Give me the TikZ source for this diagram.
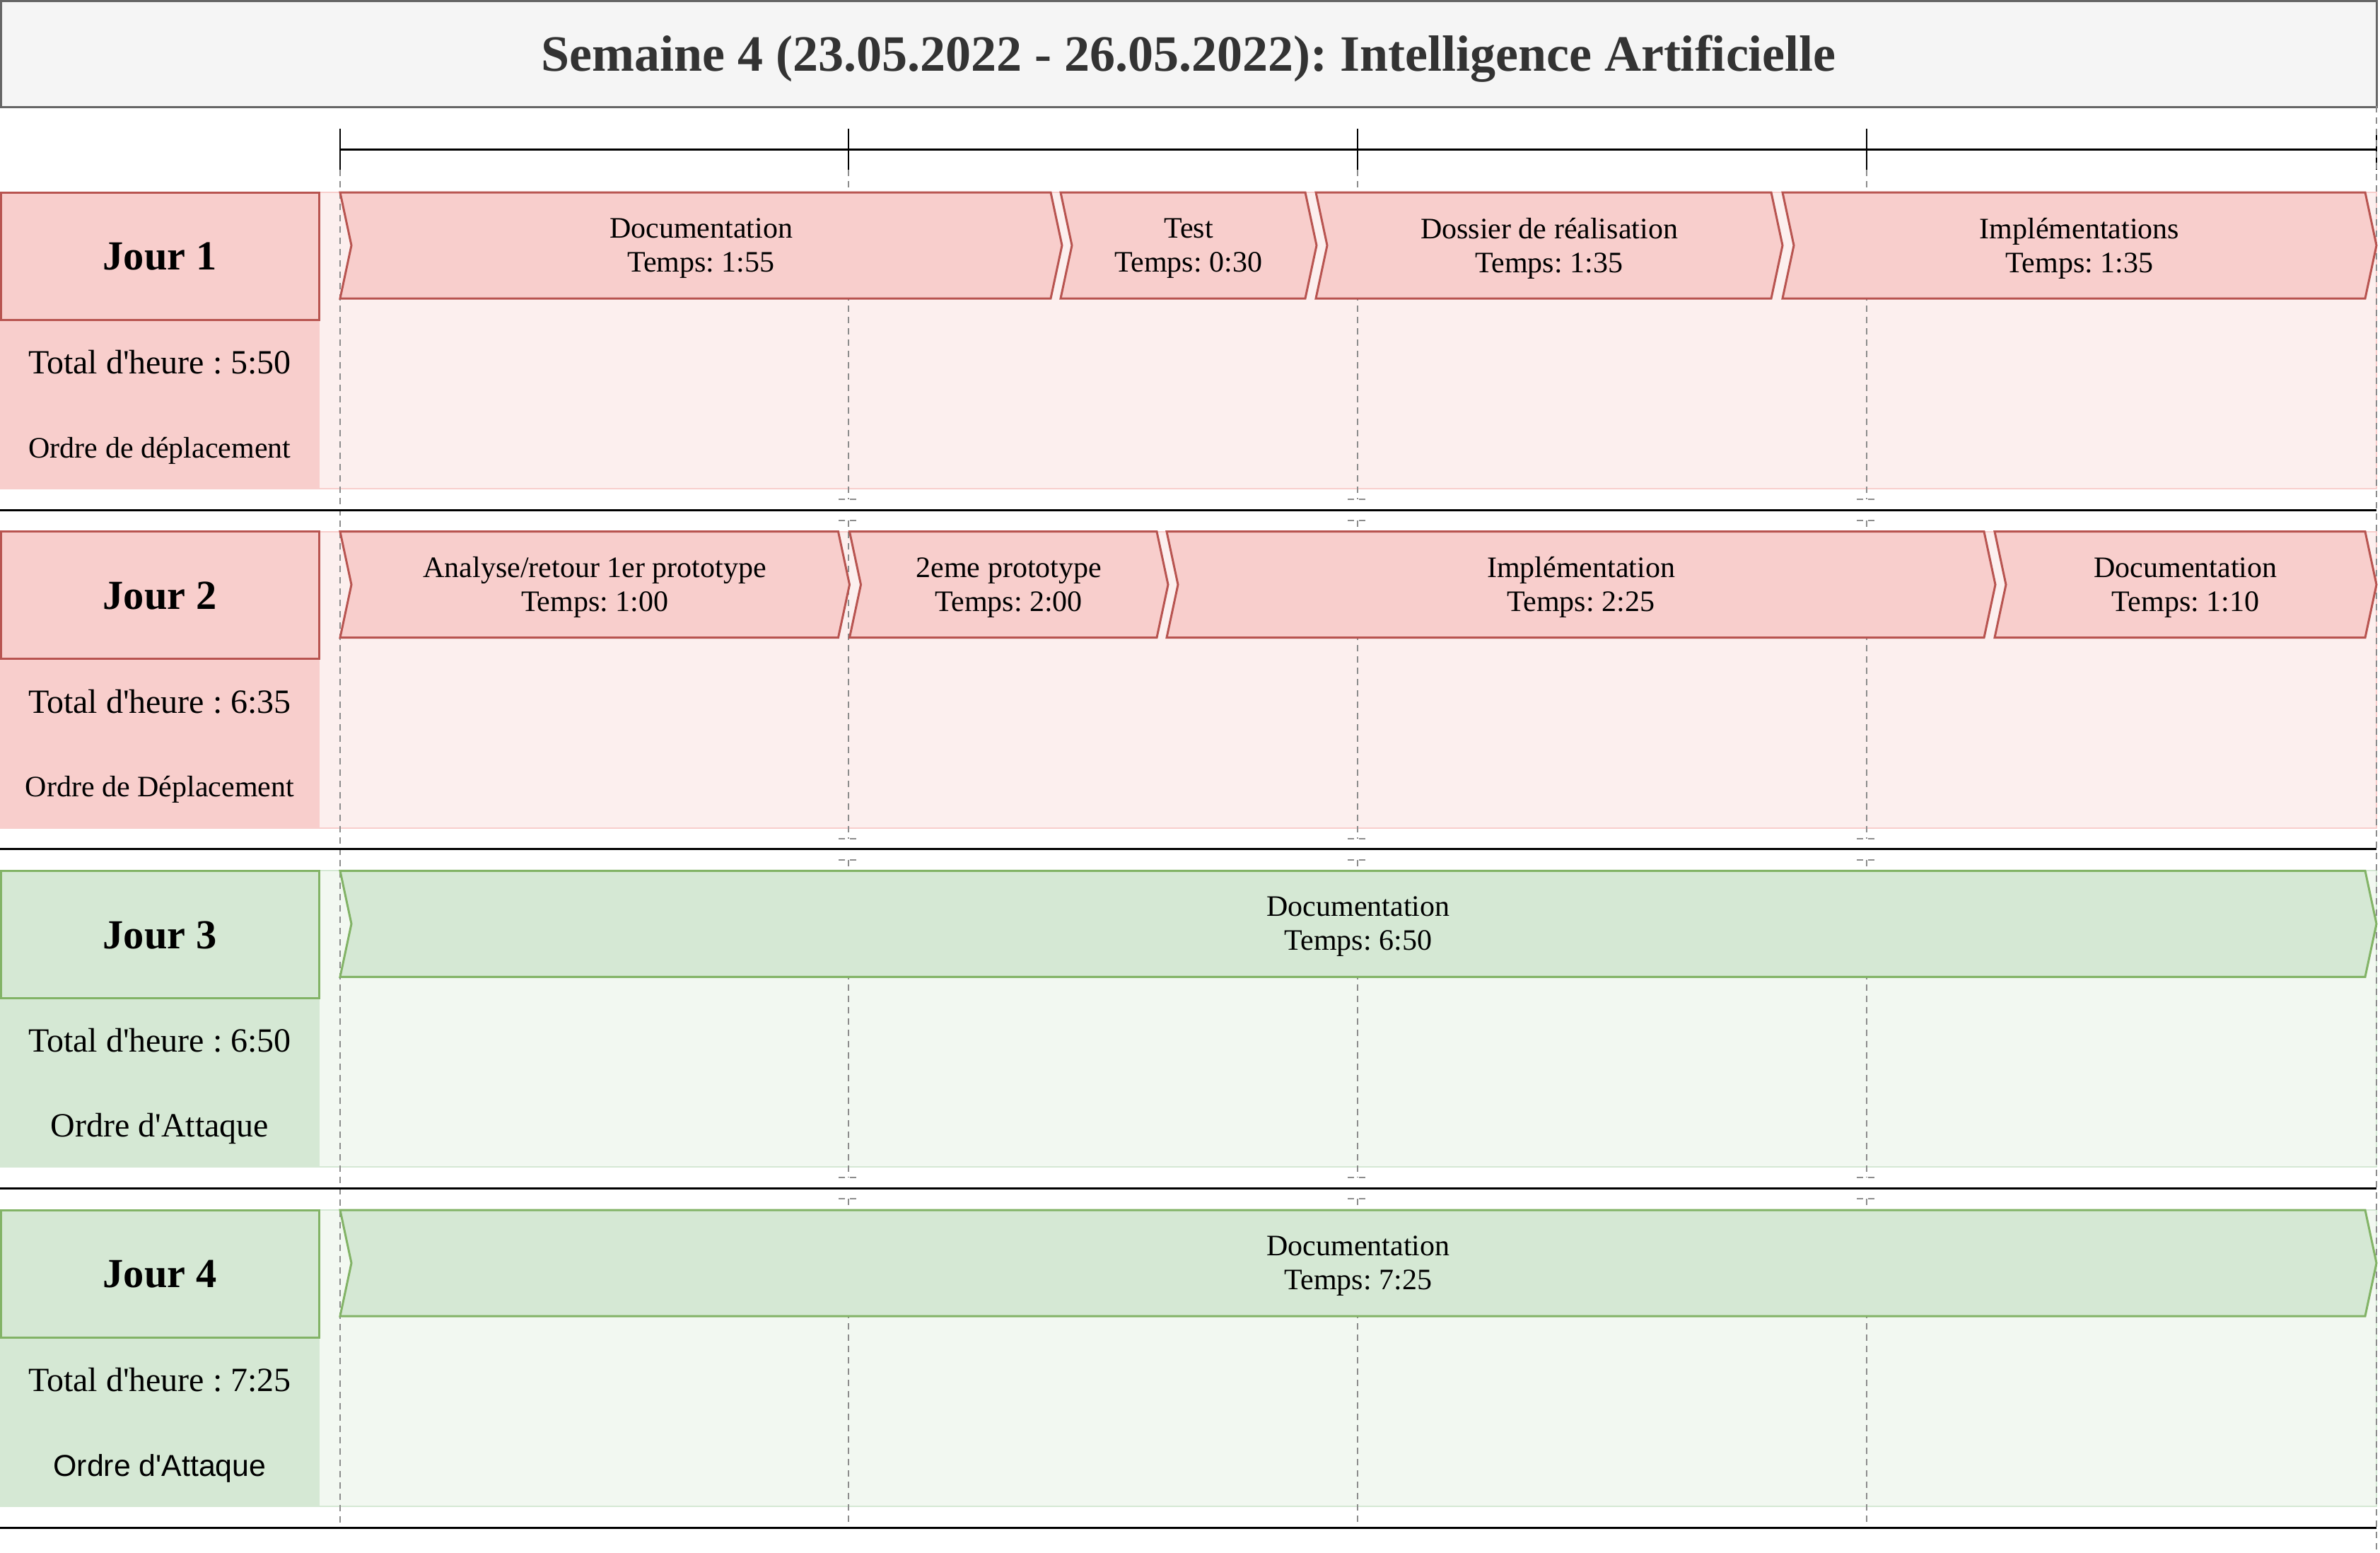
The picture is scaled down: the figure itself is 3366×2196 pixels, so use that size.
\documentclass[tikz,border=0pt]{standalone}
\usepackage{fontspec}
\setmainfont{Liberation Serif}[Ligatures=TeXOff]
\newfontfamily\arialfont{Liberation Sans}
\usetikzlibrary{calc}

\definecolor{hdrfill}{HTML}{F5F5F5}
\definecolor{hdrline}{HTML}{666666}
\definecolor{hdrtext}{HTML}{333333}
\definecolor{redfill}{HTML}{F8CECC}
\definecolor{redline}{HTML}{B85450}
\definecolor{redlight}{HTML}{FCEFEE}
\definecolor{greenfill}{HTML}{D5E8D4}
\definecolor{greenline}{HTML}{82B366}
\definecolor{greenlight}{HTML}{F2F8F1}
\definecolor{gridgray}{HTML}{8C8C8C}

% chevron task: name, x start, x end (tip), top, colour family, text
\newcommand{\taskarrow}[6]{%
  \path[draw=#5line, fill=#5fill, line width=0.75pt, line join=miter]
    (#2,#4) -- ({#3-16},#4) -- (#3,{#4+75}) -- ({#3-16},{#4+150})
    -- (#2,{#4+150}) -- ({#2+16},{#4+75}) -- cycle;
  \node[tasktext] (#1) at ({(#2+#3)/2},{#4+79}) {#6};
}

% day header block: name, top, colour family, day title, total text, order text
\newcommand{\dayblock}[6]{%
  \path[fill=#3light, draw=#3fill, line width=0.5pt] (451,#2) rectangle (3361,{#2+419});
  \path[fill=#3fill] (0,{#2+180}) rectangle (451,{#2+420});
  \path[fill=#3fill, draw=#3line, line width=0.75pt] (1.5,#2) rectangle (451,{#2+180});
  \node[daytitle] (#1title) at (226,{#2+91}) {#4};
  \node[totaltext] (#1total) at (226,{#2+240}) {#5};
  \node[inner sep=0] (#1order) at (226,{#2+365}) {#6};
}

\begin{document}
\frenchspacing
\begin{tikzpicture}[x=0.25pt,y=-0.25pt,
  tasktext/.style={align=center, inner sep=0, font=\fontsize{10.5}{12}\selectfont},
  daytitle/.style={inner sep=0, font=\fontsize{14.6}{17}\selectfont\bfseries},
  totaltext/.style={inner sep=0, font=\fontsize{12}{14}\selectfont},
  gridline/.style={draw=gridgray, line width=0.5pt, dash pattern=on 2.25pt off 1.75pt},
  separator/.style={draw=black, line width=0.75pt},
  tick/.style={draw=black, line width=0.5pt}]

\useasboundingbox (0,0) rectangle (3366,2196);

% title bar
\path[draw=hdrline, fill=hdrfill, line width=0.75pt] (1.5,1.5) rectangle (3361,151);
\node[inner sep=0, text=hdrtext, font=\fontsize{18}{21}\selectfont\bfseries] (title) at (1681,83)
  {Semaine 4 (23.05.2022 - 26.05.2022): Intelligence Artificielle};

% day blocks
\dayblock{d1}{272}{red}{Jour 1}{Total d'heure : 5:50}{\fontsize{10.5}{12}\selectfont Ordre de déplacement}
\dayblock{d2}{751.7}{red}{Jour 2}{Total d'heure : 6:35}{\fontsize{10.5}{12}\selectfont Ordre de Déplacement}
\dayblock{d3}{1231.3}{green}{Jour 3}{Total d'heure : 6:50}{\fontsize{12}{14}\selectfont Ordre d'Attaque}
\dayblock{d4}{1711}{green}{Jour 4}{Total d'heure : 7:25}{\arialfont\fontsize{10.7}{12}\selectfont Ordre d'Attaque}

% time scale
\coordinate (t0) at (481,211);
\coordinate (t4) at (3361,211);
\draw[black, line width=0.75pt] (t0) -- (t4);
\foreach \x in {481,1200,1920,2640,3361}{
  \draw[tick] (\x,182) -- (\x,240);
}

% dashed guides
\draw[gridline] (481,240) -- (481,2160);
\draw[gridline] (3361,150) -- (3361,2196);
\foreach \x in {1200,1920,2640}{
  \draw[gridline] (\x,240) -- (\x,706);
  \foreach \s in {721,1200.7,1680.3}{
    \draw[gridline] ({\x-14},{\s-15}) -- ({\x+14},{\s-15});
    \draw[gridline] ({\x-14},{\s+15}) -- ({\x+14},{\s+15});
  }
  \draw[gridline] (\x,736) -- (\x,1185.7);
  \draw[gridline] (\x,1215.7) -- (\x,1665.3);
  \draw[gridline] (\x,1695.3) -- (\x,2160);
}

% day 1 tasks
\taskarrow{a11}{481}{1502}{272}{red}{Documentation\\Temps: 1:55}
\taskarrow{a12}{1500}{1862}{272}{red}{Test\\Temps: 0:30}
\taskarrow{a13}{1861}{2521}{272}{red}{Dossier de réalisation\\Temps: 1:35}
\taskarrow{a14}{2521}{3361}{272}{red}{Implémentations\\Temps: 1:35}

% day 2 tasks
\taskarrow{a21}{481}{1201.5}{751.7}{red}{Analyse/retour 1er prototype\\Temps: 1:00}
\taskarrow{a22}{1201.5}{1652}{751.7}{red}{2eme prototype\\Temps: 2:00}
\taskarrow{a23}{1650}{2822}{751.7}{red}{Implémentation\\Temps: 2:25}
\taskarrow{a24}{2821}{3361}{751.7}{red}{Documentation\\Temps: 1:10}

% day 3 and 4 tasks
\taskarrow{a31}{481}{3361}{1231.3}{green}{Documentation\\Temps: 6:50}
\taskarrow{a41}{481}{3361}{1711}{green}{Documentation\\Temps: 7:25}

% separators between days
\coordinate (sl1) at (0,721);     \coordinate (sr1) at (3361,721);
\coordinate (sl2) at (0,1200.7);  \coordinate (sr2) at (3361,1200.7);
\coordinate (sl3) at (0,1680.3);  \coordinate (sr3) at (3361,1680.3);
\coordinate (sl4) at (0,2160);    \coordinate (sr4) at (3361,2160);
\foreach \i in {1,2,3,4}{
  \draw[separator] (sl\i) -- (sr\i);
}
\end{tikzpicture}
\end{document}
